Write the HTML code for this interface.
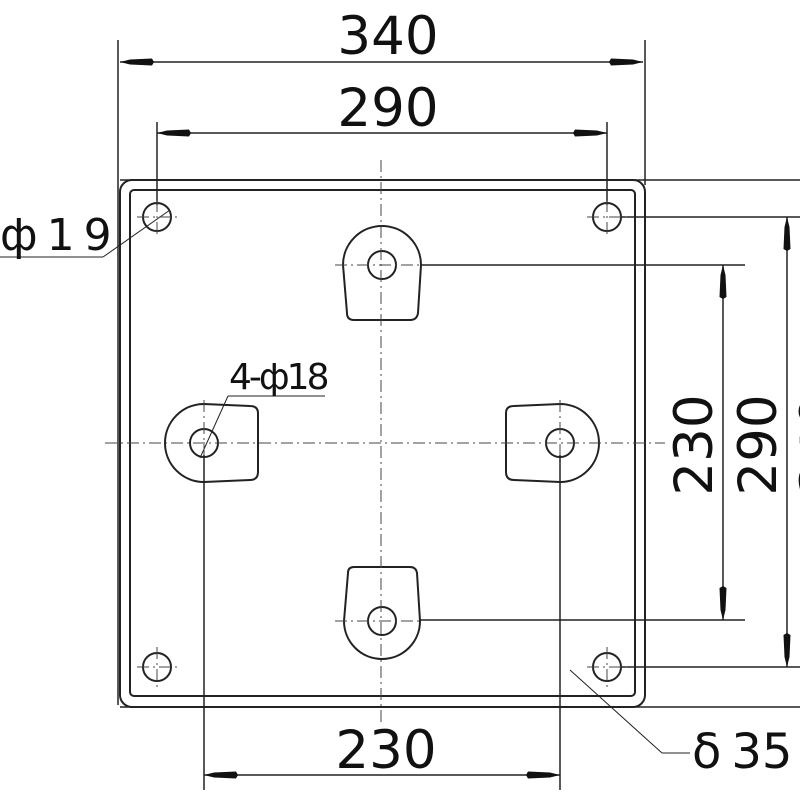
<!DOCTYPE html>
<html><head><style>html,body{margin:0;padding:0;background:#fff}svg{display:block}text{font-family:"DejaVu Sans","Liberation Sans",sans-serif;fill:#111}</style></head>
<body>
<svg width="800" height="800" viewBox="0 0 800 800" xmlns="http://www.w3.org/2000/svg">
<defs>
<g id="ar"><polygon points="0,0 10,-2.5 32,-3.5 34,0 32,3.5 10,2.5" fill="#111"/></g>
</defs>
<g stroke="#222" stroke-width="1.5" fill="none">
<line x1="118" y1="40" x2="118" y2="705"/>
<line x1="645" y1="40" x2="645" y2="185"/>
<line x1="157" y1="122" x2="157" y2="205"/>
<line x1="607" y1="122" x2="607" y2="205"/>
<line x1="120" y1="62" x2="643" y2="62"/>
<line x1="157" y1="133" x2="607" y2="133"/>
<line x1="204" y1="775" x2="560" y2="775"/>
<line x1="204" y1="455" x2="204" y2="790"/>
<line x1="560" y1="455" x2="560" y2="790"/>
<line x1="723" y1="265" x2="723" y2="620"/>
<line x1="787" y1="217" x2="787" y2="667"/>
<line x1="120" y1="180" x2="800" y2="180"/>
<line x1="120" y1="707" x2="800" y2="707"/>
<line x1="622" y1="217" x2="800" y2="217"/>
<line x1="622" y1="667" x2="800" y2="667"/>
<line x1="420" y1="265" x2="745" y2="265"/>
<line x1="420" y1="620" x2="745" y2="620"/>
<rect x="120" y="180" width="525" height="527" rx="12" stroke-width="2"/>
<rect x="130" y="190" width="505" height="506" rx="4" stroke-width="2"/>
<circle cx="157" cy="217" r="14" stroke-width="2"/>
<circle cx="607" cy="217" r="14" stroke-width="2"/>
<circle cx="157" cy="667" r="14" stroke-width="2"/>
<circle cx="607" cy="667" r="14" stroke-width="2"/>
<path d="M343,265 A39,39 0 0 1 421,265 L418,313 Q417,320 410,320 L354,320 Q347,320 347,313 Z" stroke-width="2"/>
<circle cx="382" cy="265" r="14" stroke-width="2"/>
<path d="M204,404 A39,39 0 0 0 204,482 L250,480 Q258,480 258,472 L258,413 Q258,406 250,406 Z" stroke-width="2"/>
<circle cx="204" cy="443" r="14" stroke-width="2"/>
<path d="M560,404 A39,39 0 0 1 560,482 L514,480 Q506,480 506,472 L506,413 Q506,406 514,406 Z" stroke-width="2"/>
<circle cx="560" cy="443" r="14" stroke-width="2"/>
<path d="M344,621 A38,38 0 0 0 420,621 L417,573 Q416,567 410,567 L354,567 Q348,567 348,573 Z" stroke-width="2"/>
<circle cx="382" cy="621" r="14" stroke-width="2"/>
<line x1="170" y1="210" x2="103" y2="257" stroke-width="1"/>
<line x1="103" y1="257" x2="0" y2="257" stroke-width="1"/>
<line x1="325" y1="396" x2="228" y2="396" stroke-width="1"/>
<line x1="228" y1="396" x2="200" y2="458" stroke-width="1"/>
<line x1="570" y1="670" x2="662" y2="753" stroke-width="1"/>
<line x1="662" y1="753" x2="690" y2="753" stroke-width="1"/>
</g>
<g stroke="#444" stroke-width="1" stroke-dasharray="12,4,2,4" fill="none">
<line x1="381" y1="160" x2="381" y2="725"/>
<line x1="105" y1="443" x2="665" y2="443"/>
<line x1="335" y1="265" x2="420" y2="265"/>
<line x1="335" y1="621" x2="420" y2="621"/>
<line x1="204" y1="400" x2="204" y2="455"/>
<line x1="560" y1="400" x2="560" y2="455"/>
<line x1="137" y1="217" x2="178" y2="217"/><line x1="157" y1="200" x2="157" y2="237"/>
<line x1="587" y1="217" x2="628" y2="217"/><line x1="607" y1="200" x2="607" y2="237"/>
<line x1="137" y1="667" x2="178" y2="667"/><line x1="157" y1="647" x2="157" y2="687"/>
<line x1="587" y1="667" x2="628" y2="667"/><line x1="607" y1="647" x2="607" y2="687"/>
</g>
<use href="#ar" transform="translate(120,62)"/>
<use href="#ar" transform="translate(643,62) rotate(180)"/>
<use href="#ar" transform="translate(157,133)"/>
<use href="#ar" transform="translate(607,133) rotate(180)"/>
<use href="#ar" transform="translate(204,775)"/>
<use href="#ar" transform="translate(560,775) rotate(180)"/>
<use href="#ar" transform="translate(723,265) rotate(90)"/>
<use href="#ar" transform="translate(723,620) rotate(-90)"/>
<use href="#ar" transform="translate(787,217) rotate(90)"/>
<use href="#ar" transform="translate(787,667) rotate(-90)"/>
<g font-size="53">
<text x="388" y="54" text-anchor="middle">340</text>
<text x="388" y="126" text-anchor="middle">290</text>
<text x="386" y="768" text-anchor="middle">230</text>
<text transform="translate(712,445) rotate(-90)" text-anchor="middle">230</text>
<text transform="translate(776,445) rotate(-90)" text-anchor="middle">290</text>
<text transform="translate(838,445) rotate(-90)" text-anchor="middle">340</text>
<text x="0" y="250" font-size="44" letter-spacing="9">ф19</text>
<text x="692" y="768" font-size="48"><tspan>δ</tspan><tspan dx="10">35</tspan></text>
<text x="229" y="389" font-size="36" letter-spacing="-3">4-ф18</text>
</g>
</svg>
</body></html>
